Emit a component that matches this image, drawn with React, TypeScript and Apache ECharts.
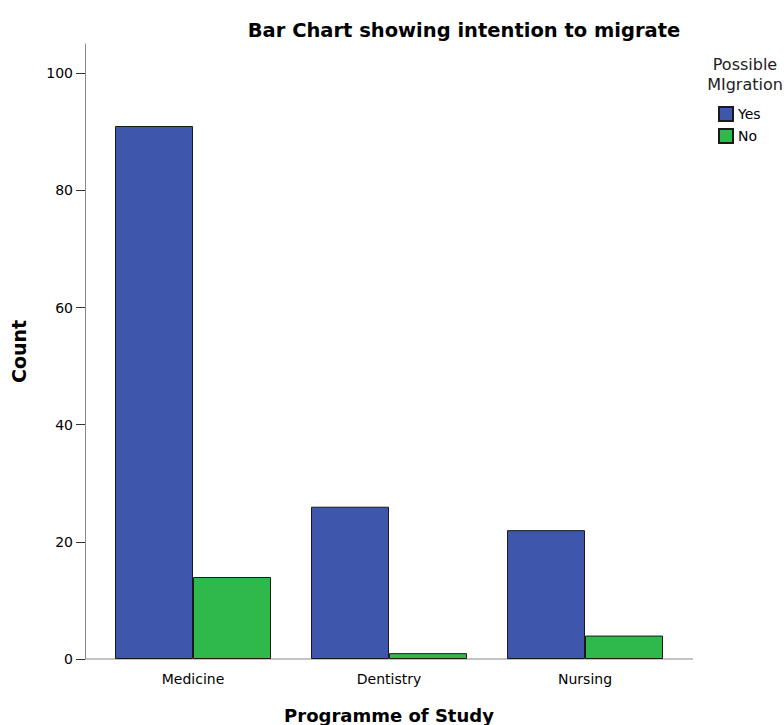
import React, { useEffect, useRef } from "react";
import * as echarts from "echarts";

const categories = ["Medicine", "Dentistry", "Nursing"];
const yesValues = [91, 26, 22];
const noValues = [14, 1, 4];
const seriesNames = ["Yes", "No"];

export default function App() {
  const ref = useRef<HTMLDivElement>(null);
  useEffect(() => {
    document.body.style.margin = "0";
    if (!ref.current) return;
    const chart = echarts.init(ref.current, null, { renderer: "svg" });
    const font = "DejaVu Sans, sans-serif";
    chart.setOption({
      animation: false,
      backgroundColor: "#ffffff",
      textStyle: { fontFamily: font },
      title: [
        {
          text: "Bar Chart showing intention to migrate",
          left: 459,
          textAlign: "center",
          top: 15,
          textStyle: { fontSize: 19.5, fontWeight: "bold", color: "#000", fontFamily: font },
        },
        {
          text: "Possible\nMIgration",
          left: 745,
          textAlign: "center",
          top: 54,
          padding: 0,
          textStyle: { fontSize: 16, fontWeight: "normal", color: "#222", lineHeight: 20, fontFamily: font },
        },
      ],
      legend: {
        orient: "vertical",
        left: 718,
        top: 106,
        padding: 0,
        itemWidth: 14,
        itemHeight: 14,
        itemGap: 6,
        icon: "rect",
        data: seriesNames,
        textStyle: { fontSize: 14, color: "#000", fontFamily: font },
      },
      grid: { left: 95, top: 44, width: 588, height: 615, outerBoundsMode: "none" },
      xAxis: {
        type: "category",
        data: categories,
        boundaryGap: true,
        name: "Programme of Study",
        nameLocation: "middle",
        nameGap: 47,
        nameTextStyle: { fontSize: 18, fontWeight: "bold", color: "#000", fontFamily: font },
        axisLine: { show: false },
        axisTick: { alignWithLabel: true, length: 8, lineStyle: { color: "#444" } },
        axisLabel: { fontSize: 14, color: "#000", margin: 13, fontFamily: font },
      },
      yAxis: {
        type: "value",
        min: 0,
        max: 105,
        interval: 20,
        offset: 10,
        name: "Count",
        nameLocation: "middle",
        nameGap: 57,
        nameTextStyle: { fontSize: 19, fontWeight: "bold", color: "#000", fontFamily: font },
        axisLine: { show: true, lineStyle: { color: "#888", width: 1 } },
        axisTick: { show: true, length: 9, lineStyle: { color: "#333" } },
        axisLabel: { fontSize: 14, color: "#000", margin: 12, showMaxLabel: false, fontFamily: font },
        splitLine: { show: false },
      },
      graphic: [
        {
          type: "line",
          shape: { x1: 85, y1: 659, x2: 693, y2: 659 },
          style: { stroke: "#888", lineWidth: 1 },
          z: 1,
        },
      ],
      series: [
        {
          name: seriesNames[0],
          type: "bar",
          data: yesValues,
          barWidth: 78,
          barGap: "0%",
          itemStyle: { color: "#3e56ab", borderColor: "#1a1a1a", borderWidth: 1 },
        },
        {
          name: seriesNames[1],
          type: "bar",
          data: noValues,
          barWidth: 78,
          barGap: "0%",
          itemStyle: { color: "#2fb94b", borderColor: "#1a1a1a", borderWidth: 1 },
        },
      ],
    });
    return () => chart.dispose();
  }, []);
  return <div ref={ref} style={{ width: 784, height: 725 }} />;
}
